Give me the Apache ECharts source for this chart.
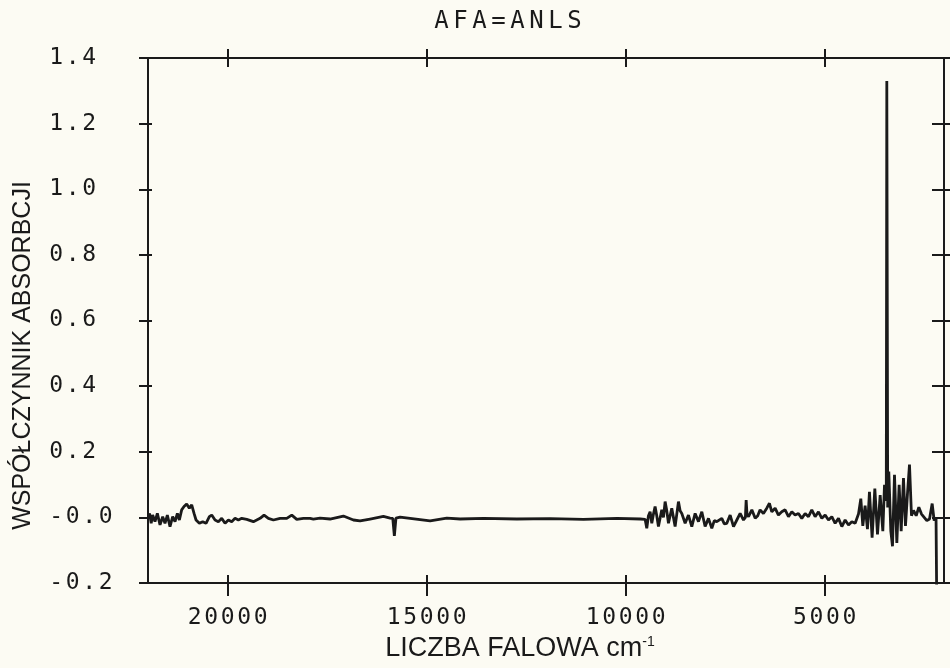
<!DOCTYPE html>
<html>
<head>
<meta charset="utf-8">
<script src="https://cdn.jsdelivr.net/npm/echarts@6/dist/echarts.min.js"></script>
<style>
  html, body { margin: 0; padding: 0; background: #fcfbf3; }
  #chart { width: 950px; height: 668px; }
</style>
</head>
<body>
<div id="chart"></div>
<script>
// spectrum: wavenumber (cm-1) and absorption coefficient
const waveNumbers = [
  22000, 21960, 21920, 21883, 21824, 21765, 21698, 21631, 21573, 21514, 21447, 21380,
  21321, 21262, 21212, 21154, 21095, 21028, 20961, 20902, 20843, 20793, 20709, 20626,
  20542, 20458, 20399, 20316, 20232, 20148, 20064, 19980, 19897, 19813, 19729, 19645,
  19519, 19352, 19184, 19084, 18975, 18849, 18681, 18514, 18388, 18262, 18095, 17927,
  17845, 17677, 17426, 17091, 16839, 16672, 16420, 16085, 15917, 15850, 15810, 15770,
  15666, 15415, 14912, 14493, 14158, 13571, 12733, 11895, 11057, 10219, 9632,
  9510, 9468, 9426, 9384, 9342, 9300, 9259, 9217, 9175, 9091, 9049, 9007, 8965, 8923,
  8840, 8798, 8756, 8714, 8672, 8630, 8588, 8504, 8421, 8337, 8253, 8169, 8085, 8002,
  7918, 7834, 7771, 7708, 7583, 7520, 7457, 7373, 7289, 7205, 7122, 7038, 6990, 6971,
  6950, 6912, 6828, 6744, 6680,
  6621, 6537, 6453, 6386, 6327, 6243, 6160, 6076, 5992, 5908, 5824, 5741, 5657, 5573,
  5489, 5405, 5322, 5238, 5154, 5070, 4986, 4903, 4819, 4735, 4651, 4567, 4484, 4400,
  4316, 4232,
  4149, 4090, 4040, 3982, 3923, 3873, 3806, 3738, 3671, 3604, 3537, 3495, 3450, 3437,
  3415, 3387, 3336, 3294, 3244, 3185, 3127, 3076, 3018, 2968, 2917, 2867, 2817, 2766,
  2699, 2632, 2565, 2498, 2431, 2364, 2297, 2247, 2200, 2185
];
const absorbance = [
  -0.003, 0.012, -0.018, 0.007, -0.013, 0.012, -0.023, 0.002, -0.018, 0.007, -0.028, 0.002,
  -0.013, 0.012, -0.008, 0.023, 0.033, 0.041, 0.028, 0.038, 0.012, -0.008, -0.018, -0.013,
  -0.018, 0.002, 0.007, -0.008, -0.013, -0.003, -0.018, -0.008, -0.013, -0.003, -0.008, -0.003,
  -0.006, -0.013, -0.003, 0.007, -0.003, -0.008, -0.003, -0.003, 0.007, -0.006, -0.003, -0.003,
  -0.005, -0.002, -0.005, 0.004, -0.008, -0.011, -0.005, 0.003, -0.002, -0.003, -0.056, -0.002,
  0.001, -0.003, -0.011, -0.002, -0.005, -0.003, -0.005, -0.004, -0.006, -0.003, -0.005,
  -0.006, -0.033, 0.005, 0.017, -0.018, 0.010, 0.033, 0.005, -0.028, 0.023, 0.000, 0.048, 0.020, -0.018,
  0.028, 0.000, -0.028, 0.010, 0.048, 0.020, 0.012, -0.018, 0.007, -0.028, 0.012, -0.013, 0.017, -0.028,
  -0.003, -0.033, -0.010, -0.013, -0.003, -0.020, -0.018, 0.007, -0.028, -0.008, 0.012, -0.008, 0.000, 0.053,
  0.010, 0.002, 0.023, -0.003, 0.005,
  0.023, 0.012, 0.028, 0.043, 0.017, 0.028, 0.007, 0.017, 0.023, 0.002, 0.017, 0.007, 0.012, -0.003,
  0.012, 0.002, 0.023, 0.002, 0.017, -0.003, 0.007, -0.008, 0.002, -0.018, -0.003, -0.028, -0.008, -0.023,
  -0.013, -0.018,
  0.010, 0.057, -0.026, 0.036, -0.036, 0.078, -0.062, 0.088, -0.052, 0.068, -0.042, 0.099, 0.050, 1.330,
  0.030, 0.140, -0.042, -0.088, 0.130, -0.078, 0.099, -0.042, 0.120, -0.026, 0.073, 0.161, 0.005, 0.021,
  0.005, 0.031, 0.010, 0.000, -0.010, -0.005, 0.042, -0.010, 0.000, -0.220
];
const xTicks = [20000, 15000, 10000, 5000];
const xRange = [2000, 22000];
const yRange = [-0.2, 1.4];
const yStep = 0.2;

const ink = '#1a1a1a';
const mono = 'DejaVu Sans Mono';

// plotter-style spacing: every character in its own fixed-width box
const spaced = (s, key) => s.split('').map(c => '{' + key + '|' + c + '}').join('');

const chart = echarts.init(document.getElementById('chart'));

const xBase = {
  type: 'value', gridIndex: 0, min: xRange[0], max: xRange[1], inverse: true,
  splitLine: { show: false },
  axisLine: { show: true, onZero: false, lineStyle: { color: ink, width: 2 } },
  axisLabel: { show: false }
};
const yBase = {
  type: 'value', gridIndex: 0, min: yRange[0], max: yRange[1], interval: yStep,
  splitLine: { show: false },
  axisLine: { show: true, onZero: false, lineStyle: { color: ink, width: 2 } },
  axisLabel: { show: false }
};
const tick = (inside, length) => ({
  show: true, inside: inside, length: length, lineStyle: { color: ink, width: 2 }
});
const xTick = (inside, length) => Object.assign(tick(inside, length), { customValues: xTicks });
const labelRich = { c: { fontFamily: mono, fontSize: 23, width: 16.5, align: 'center', color: ink } };

chart.setOption({
  backgroundColor: '#fcfbf3',
  animation: false,
  title: {
    text: spaced('AFA=ANLS', 't'),
    left: 427, top: 5,
    textStyle: {
      fontWeight: 'normal',
      rich: { t: { fontFamily: mono, fontSize: 24, fontWeight: 'normal', width: 19, align: 'center', color: ink } }
    }
  },
  grid: { left: 148, right: 6, top: 58, bottom: 85, containLabel: false, outerBoundsMode: 'none' },
  xAxis: [
    Object.assign({}, xBase, {
      position: 'bottom',
      axisTick: xTick(false, 13),
      axisLabel: {
        show: true, margin: 24, customValues: xTicks,
        formatter: v => spaced(String(v), 'c'),
        rich: labelRich
      },
      name: 'LICZBA FALOWA cm{sup|-1}',
      nameLocation: 'middle', nameGap: 52,
      nameTextStyle: {
        fontFamily: 'Liberation Sans', fontSize: 27, color: ink, padding: [0, 52, 0, 0],
        rich: { sup: { fontFamily: 'Liberation Sans', fontSize: 14, verticalAlign: 'top', color: ink } }
      }
    }),
    Object.assign({}, xBase, { position: 'bottom', axisTick: xTick(true, 8) }),
    Object.assign({}, xBase, { position: 'top', axisTick: xTick(false, 9) }),
    Object.assign({}, xBase, { position: 'top', axisTick: xTick(true, 9) })
  ],
  yAxis: [
    Object.assign({}, yBase, {
      position: 'left',
      axisTick: tick(false, 9),
      axisLabel: {
        show: true, margin: 100, align: 'left',
        formatter: v => {
          const r = Math.round(v * 10) / 10;
          return spaced(r === 0 ? '-0.0' : r.toFixed(1), 'c');
        },
        rich: labelRich
      },
      name: 'WSPÓŁCZYNNIK ABSORBCJI',
      nameLocation: 'middle', nameGap: 112,
      nameTextStyle: { fontFamily: 'Liberation Sans', fontSize: 25, color: ink, padding: [0, 70, 0, 0] }
    }),
    Object.assign({}, yBase, { position: 'left', axisTick: tick(true, 4) }),
    Object.assign({}, yBase, { position: 'right', axisTick: tick(false, 6) }),
    Object.assign({}, yBase, { position: 'right', axisTick: tick(true, 12) })
  ],
  series: [{
    type: 'line',
    xAxisIndex: 0, yAxisIndex: 0,
    data: waveNumbers.map((w, i) => [w, absorbance[i]]),
    showSymbol: false,
    clip: true,
    lineStyle: { color: ink, width: 2.8 }
  }]
});
</script>
</body>
</html>
